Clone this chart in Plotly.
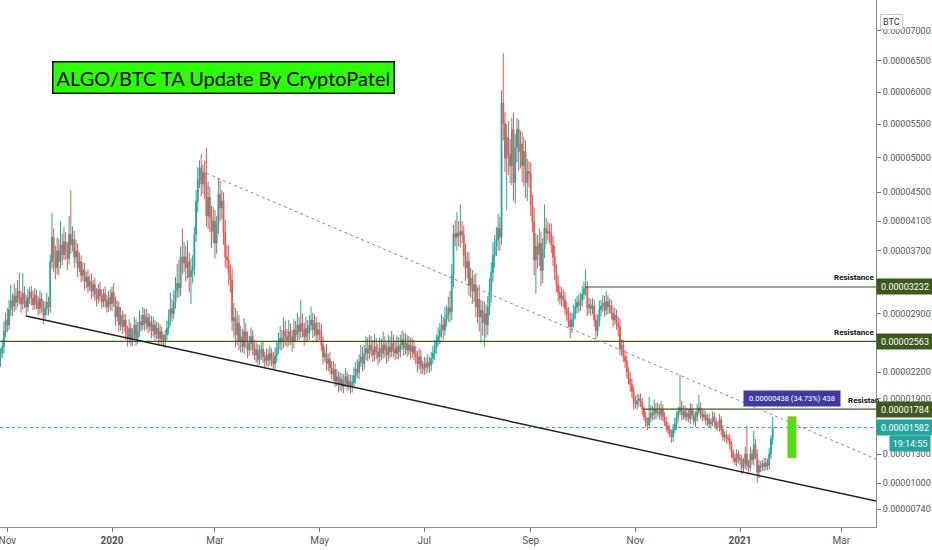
import numpy as np
import pandas as pd
import plotly.graph_objects as go

# ALGO/BTC daily candles, prices in satoshi (1e-8 BTC)
first_open = 2380
close = [
    2420, 2500, 2680, 2820,  # Oct 2019
    2760, 2950, 3060, 2990, 3120, 3040, 3180, 3100, 3020, 3150, 3060, 2980, 3100, 3170, 3090,
    3010, 3130, 3050, 2960, 3080, 3000, 2880, 2960, 3040, 2980, 3560, 3880, 3620, 3480, 3700,  # Nov
    3560, 3780, 3650, 3820, 3700, 3600, 3920, 3780, 3850, 3620, 3700, 3480, 3560, 3380, 3450, 3300,
    3360, 3240, 3300, 3180, 3260, 3140, 3080, 3200, 3120, 3040, 3150, 3060, 2980, 3100, 3020,  # Dec
    3160, 3050, 2860, 2980, 2760, 2880, 2740, 2820, 2660, 2600, 2720, 2580, 2640, 2760, 2600, 2680,
    2800, 2760, 2880, 2780, 2850, 2740, 2800, 2690, 2760, 2650, 2720, 2600, 2680, 2580, 2560,  # Jan 2020
    2640, 2720, 2840, 2960, 2900, 3040, 3180, 3280, 3220, 3620, 3540, 3620, 3480, 3560, 3360,
    3440, 3500, 3920, 4370, 4680, 4850, 4620, 4780, 4600, 4170, 4430, 4150, 3960, 4100,  # Feb
    3800, 4050, 4470, 4280, 4380, 3940, 3620, 3580, 3400, 3320, 2810, 2850, 2640, 2780, 2560, 2620,
    2500, 2680, 2560, 2460, 2540, 2620, 2480, 2400, 2460, 2350, 2420, 2470, 2380, 2330, 2400,  # Mar
    2340, 2420, 2360, 2300, 2390, 2480, 2545, 2600, 2560, 2690, 2620, 2580, 2680, 2620, 2560,
    2700, 2640, 2760, 2680, 2780, 2700, 2620, 2720, 2660, 2760, 2820, 2700, 2780, 2640, 2700,  # Apr
    2660, 2520, 2380, 2420, 2300, 2350, 2250, 2180, 2230, 2100, 2150, 2060, 2120, 2040, 2090, 2150,
    2060, 2100, 2040, 2080, 2160, 2240, 2200, 2320, 2380, 2300, 2420, 2480, 2420, 2520, 2460,  # May
    2400, 2500, 2440, 2380, 2480, 2420, 2520, 2460, 2400, 2500, 2440, 2540, 2470, 2420, 2500,
    2440, 2520, 2580, 2480, 2540, 2460, 2520, 2440, 2500, 2420, 2380, 2300, 2380, 2260, 2240,  # Jun
    2300, 2260, 2320, 2280, 2360, 2420, 2480, 2560, 2620, 2690, 2760, 2700, 2830, 2880, 2970, 2920,
    3380, 3930, 3880, 3940, 3900, 3960, 3920, 3640, 3480, 3560, 3250, 3340, 3180, 3260, 2980,  # Jul
    3080, 2860, 2940, 2790, 2900, 2760, 2980, 3180, 3420, 3640, 3760, 3850, 4000, 3880, 5830, 5510,
    4990, 5300, 5050, 4880, 5420, 4640, 5150, 5420, 5090, 5200, 4880, 5090, 4640, 4800, 4770,  # Aug
    4320, 4090, 3580, 3760, 3650, 3800, 3440, 3720, 4000, 3940, 3960, 3930, 3780, 3620, 3420,
    3260, 3160, 3090, 3120, 3070, 2960, 2900, 2820, 2740, 2820, 2900, 2980, 3040, 3000, 3070,  # Sep
    3140, 3210, 3230, 2970, 3010, 2960, 2990, 2820, 2690, 2800, 2950, 2990, 3030, 2940, 3050, 2980,
    3000, 2900, 2820, 2880, 2780, 2740, 2470, 2520, 2380, 2330, 2200, 2120, 2060, 1980, 1870,  # Oct
    1840, 1880, 1900, 1860, 1780, 1700, 1640, 1610, 1690, 1740, 1720, 1780, 1740, 1760, 1720,
    1780, 1700, 1640, 1600, 1560, 1520, 1480, 1560, 1620, 1700, 1760, 1800, 1720, 1760, 1700,  # Nov
    1740, 1680, 1780, 1720, 1650, 1700, 1760, 1800, 1740, 1700, 1720, 1660, 1680, 1620, 1640, 1700,
    1650, 1600, 1590, 1670, 1560, 1480, 1500, 1470, 1460, 1400, 1320, 1260, 1220, 1300, 1260,  # Dec
    1240, 1160, 1200, 1300, 1180, 1160, 1300, 1240, 1400, 1300, 1110, 1180, 1160, 1200, 1170,
    1210, 1180, 1300, 1460, 1582,  # Jan 2021
]
upper_wick = [
    60, 80, 120, 90,
    150, 120, 200, 90, 150, 100, 140, 240, 80, 260, 90, 70, 110, 60, 80,
    100, 90, 70, 60, 110, 80, 60, 90, 120, 70, 90, 330, 120, 150, 180,
    160, 320, 150, 200, 130, 120, 250, 610, 180, 120, 150, 100, 120, 80, 100, 90,
    70, 100, 80, 110, 60, 90, 80, 70, 100, 80, 60, 90, 70, 80, 100,
    80, 120, 60, 90, 70, 100, 60, 80, 70, 90, 110, 60, 80, 100, 70, 120,
    140, 90, 100, 80, 110, 60, 90, 70, 100, 60, 80, 70, 90, 60, 70,
    60, 90, 110, 200, 120, 150, 180, 250, 300, 140, 380, 200, 150, 280, 120,
    160, 140, 100, 160, 180, 110, 200, 120, 180, 550, 220, 150, 160, 200,
    150, 120, 230, 200, 150, 120, 180, 150, 200, 120, 160, 180, 120, 150, 100, 130,
    90, 160, 100, 120, 90, 110, 80, 100, 90, 70, 100, 80, 90, 60, 80,
    70, 90, 60, 80, 100, 90, 120, 150, 100, 160, 120, 90, 140, 100, 80,
    130, 110, 150, 100, 290, 120, 90, 140, 100, 120, 160, 90, 110, 80, 100,
    90, 120, 100, 80, 110, 70, 90, 80, 100, 70, 90, 60, 80, 70, 90, 100,
    60, 80, 70, 90, 100, 80, 110, 90, 140, 120, 100, 150, 130, 120, 110,
    120, 150, 100, 90, 130, 110, 160, 100, 90, 140, 120, 150, 100, 90, 130,
    110, 120, 110, 90, 120, 100, 110, 90, 100, 80, 90, 70, 100, 80, 70,
    80, 70, 90, 60, 80, 90, 100, 80, 110, 90, 130, 100, 150, 120, 140, 210,
    150, 120, 180, 280, 160, 370, 140, 120, 150, 130, 120, 140, 110, 130, 150,
    150, 180, 130, 120, 150, 110, 140, 160, 130, 180, 150, 170, 200, 160, 200, 800,
    180, 200, 250, 220, 180, 260, 200, 180, 150, 200, 180, 220, 160, 180, 150,
    160, 150, 200, 180, 150, 200, 160, 150, 330, 150, 130, 110, 140, 120, 150,
    100, 120, 90, 110, 80, 100, 90, 80, 100, 90, 110, 100, 80, 100, 90,
    100, 90, 230, 80, 90, 70, 100, 80, 70, 90, 110, 80, 100, 90, 130, 80,
    90, 70, 80, 90, 70, 80, 100, 70, 60, 80, 70, 60, 80, 70, 60,
    60, 70, 50, 60, 50, 40, 60, 50, 230, 90, 80, 110, 70, 100, 80,
    90, 60, 50, 60, 40, 50, 40, 60, 70, 60, 50, 370, 80, 70, 60,
    60, 50, 70, 60, 50, 60, 80, 145, 60, 50, 60, 40, 50, 60, 40, 60,
    50, 40, 50, 60, 40, 50, 40, 50, 40, 50, 40, 30, 40, 50, 40,
    40, 50, 60, 80, 300, 60, 80, 50, 150, 60, 50, 60, 50, 40, 60,
    50, 40, 60, 40, 118,
]
lower_wick = [
    120, 60, 80, 70,
    90, 60, 80, 120, 70, 100, 60, 90, 110, 70, 90, 120, 60, 80, 90,
    70, 60, 100, 80, 70, 90, 110, 60, 80, 100, 70, 90, 200, 150, 90,
    180, 90, 140, 70, 120, 150, 80, 120, 90, 140, 80, 120, 60, 90, 70, 110,
    80, 90, 60, 100, 70, 80, 90, 60, 70, 80, 60, 90, 70, 60, 80,
    90, 70, 110, 60, 80, 70, 90, 60, 80, 100, 60, 80, 70, 60, 90, 70,
    60, 80, 60, 90, 70, 80, 60, 90, 70, 80, 60, 90, 60, 70, 60,
    80, 60, 70, 90, 100, 70, 80, 90, 120, 100, 150, 120, 180, 140, 200,
    340, 160, 120, 100, 150, 120, 180, 140, 200, 150, 180, 200, 220, 160,
    200, 140, 120, 180, 150, 160, 140, 120, 150, 160, 120, 200, 150, 120, 100, 130,
    70, 90, 80, 100, 70, 90, 80, 60, 90, 70, 60, 80, 70, 80, 60,
    80, 60, 90, 70, 60, 80, 70, 90, 100, 80, 110, 90, 70, 100, 120,
    80, 90, 70, 100, 80, 90, 110, 70, 90, 80, 70, 100, 80, 90, 70,
    80, 70, 90, 60, 80, 90, 70, 60, 80, 70, 60, 90, 70, 65, 80, 60,
    70, 60, 80, 70, 60, 90, 70, 80, 60, 90, 70, 80, 90, 70, 80,
    80, 70, 90, 100, 70, 80, 60, 90, 100, 70, 80, 60, 90, 80, 70,
    90, 70, 60, 90, 70, 80, 60, 90, 70, 80, 90, 100, 70, 80, 60,
    70, 80, 60, 90, 70, 60, 80, 70, 60, 90, 80, 120, 70, 90, 80, 130,
    100, 150, 120, 180, 140, 160, 120, 150, 170, 140, 130, 150, 160, 140, 130,
    200, 180, 320, 160, 290, 150, 120, 100, 140, 120, 160, 130, 150, 180, 100, 260,
    200, 740, 300, 250, 280, 260, 300, 220, 280, 250, 240, 300, 220, 260, 200,
    150, 140, 200, 430, 180, 150, 200, 160, 120, 150, 100, 130, 110, 120, 100,
    90, 110, 80, 100, 90, 80, 100, 90, 140, 80, 90, 70, 80, 90, 70,
    80, 70, 90, 100, 80, 90, 70, 80, 100, 70, 60, 90, 70, 80, 60, 90,
    80, 70, 90, 60, 80, 120, 70, 80, 60, 80, 70, 60, 80, 70, 90,
    50, 60, 70, 50, 60, 40, 50, 60, 40, 50, 60, 50, 70, 40, 50,
    60, 50, 40, 60, 50, 40, 60, 50, 40, 60, 50, 40, 60, 50, 40,
    50, 40, 60, 50, 40, 60, 50, 40, 60, 50, 40, 50, 60, 40, 50, 40,
    60, 50, 40, 50, 60, 40, 50, 60, 40, 50, 60, 50, 40, 50, 60,
    60, 70, 50, 60, 50, 60, 40, 50, 60, 50, 110, 60, 50, 40, 50,
    40, 50, 40, 50, 60,
]

# price axis labels (satoshi)
price_ticks = [740, 1000, 1300, 1900, 2200, 2900, 3700, 4100, 4500, 5000, 5500, 6000, 6500, 7000]
month_ticks = ["2019-11-01", "2020-01-01", "2020-03-01", "2020-05-01", "2020-07-01",
               "2020-09-01", "2020-11-01", "2021-01-01", "2021-03-01"]
month_labels = ["Nov", "<b>2020</b>", "Mar", "May", "Jul", "Sep", "Nov", "<b>2021</b>", "Mar"]

# drawings
resistance = [3232, 2563, 1784]
resistance_start = ["2020-10-02 14:00", "2019-10-27 17:30", "2020-11-05 10:00"]
# the lowest label runs into the price axis and is cut there
resistance_text = ["Resistance", "Resistance", "Resistan"]
support = (("2019-11-11 22:00", 2870), ("2021-03-21 05:17", 819))
trend = (("2020-02-21 21:00", 4805), ("2021-03-21 05:17", 1248))
last_price = 1582
measure_low, measure_high = 1261, 1699

X_RANGE = ["2019-10-27 17:30", "2021-03-21 05:17"]


def ty(p):
    # the chart's price scale: straight in log(price + 8000 sat)
    return np.log(np.asarray(p, dtype=float) + 8000)


def fmt(p):
    return "%.8f" % (p / 1e8)


n = min(len(close), len(upper_wick), len(lower_wick))
close_a = np.array(close[:n], dtype=float)
open_a = np.concatenate([[first_open], close_a[:-1]])
high_a = np.maximum(open_a, close_a) + np.array(upper_wick[:n])
low_a = np.minimum(open_a, close_a) - np.array(lower_wick[:n])
dates = pd.date_range("2019-10-28", periods=n, freq="D")

UP, DOWN = "#26a69a", "#ef5350"
OLIVE = "#3d5a1e"

fig = go.Figure(go.Candlestick(
    x=dates, open=ty(open_a), high=ty(high_a), low=ty(low_a), close=ty(close_a),
    increasing=dict(line=dict(color=UP, width=1), fillcolor=UP),
    decreasing=dict(line=dict(color=DOWN, width=1), fillcolor=DOWN),
    whiskerwidth=0, hoverinfo="skip", showlegend=False,
))

# horizontal resistance lines
for lvl, x0 in zip(resistance, resistance_start):
    fig.add_shape(type="line", xref="x", yref="y", x0=x0, x1=X_RANGE[1], y0=ty(lvl), y1=ty(lvl),
                  line=dict(color=OLIVE, width=1.2))
# last price dotted line
fig.add_shape(type="line", xref="x", yref="y", x0=X_RANGE[0], x1=X_RANGE[1],
              y0=ty(last_price), y1=ty(last_price), line=dict(color="#1fb3a3", width=1, dash="dot"))
# support and falling trend line
fig.add_shape(type="line", xref="x", yref="y", x0=support[0][0], x1=support[1][0],
              y0=ty(support[0][1]), y1=ty(support[1][1]), line=dict(color="#222222", width=1.5))
fig.add_shape(type="line", xref="x", yref="y", x0=trend[0][0], x1=trend[1][0],
              y0=ty(trend[0][1]), y1=ty(trend[1][1]), line=dict(color="#8a8a8a", width=1, dash="dot"))
# measure box
fig.add_shape(type="rect", xref="x", yref="y", x0="2021-01-28 22:00", x1="2021-02-02 14:00",
              y0=ty(measure_low), y1=ty(measure_high), fillcolor="#3fe61c",
              line=dict(color="#d0a400", width=1))

ann = []
ann.append(dict(xref="paper", yref="paper", x=52 / 876, y=1 - 61 / 527, xanchor="left", yanchor="top",
                text="ALGO/BTC TA Update By CryptoPatel", showarrow=False,
                font=dict(family="Lato", size=20, color="#000000"),
                bgcolor="#2cff05", bordercolor="#111111", borderwidth=1.5, borderpad=3))
for lvl, txt, xa, xv in zip(resistance, resistance_text, ["right", "right", "left"],
                            [1.0, 1.0, 846 / 876]):
    ann.append(dict(xref="paper", yref="y", x=xv, y=ty(lvl), xanchor=xa, yanchor="middle", yshift=9,
                    text="<b>%s</b>" % txt, showarrow=False,
                    font=dict(family="Roboto", size=8, color="#111111")))
ann.append(dict(xref="x", yref="y", x="2021-01-31 06:00", y=ty(1903), text="0.00000438 (34.73%) 438",
                showarrow=False, font=dict(family="Roboto", size=7.5, color="white"),
                bgcolor="#3f3b9e", borderpad=2, width=92, height=11))
for lvl in resistance:
    ann.append(dict(xref="paper", yref="y", x=1.0, y=ty(lvl), xanchor="left", yanchor="middle",
                    text=fmt(lvl), showarrow=False, font=dict(family="Roboto", size=9, color="white"),
                    bgcolor=OLIVE, borderpad=1, width=54, height=13))
ann.append(dict(xref="paper", yref="y", x=1.0, y=ty(last_price), xanchor="left", yanchor="middle",
                text=fmt(last_price), showarrow=False, font=dict(family="Roboto", size=9, color="white"),
                bgcolor=UP, borderpad=1, width=54, height=13))
ann.append(dict(xref="paper", yref="y", x=931 / 876, y=ty(last_price), xanchor="right", yanchor="middle",
                yshift=-16, text="19:14:55", showarrow=False,
                font=dict(family="Roboto", size=9, color="white"),
                bgcolor=UP, borderpad=1, width=38, height=13))
ann.append(dict(xref="paper", yref="paper", x=903 / 876, y=1 - 14 / 527, text="BTC", showarrow=False,
                font=dict(family="Roboto", size=9, color="#333333"), bgcolor="white",
                bordercolor="#c8c8c8", borderwidth=1, borderpad=2))

fig.update_layout(
    width=932, height=550,
    margin=dict(l=0, r=56, t=0, b=23),
    paper_bgcolor="white", plot_bgcolor="white",
    annotations=ann,
    xaxis=dict(type="date", range=X_RANGE, rangeslider=dict(visible=False), showgrid=False,
               zeroline=False, tickvals=month_ticks, ticktext=month_labels, ticks="outside",
               ticklen=4, tickcolor="#777777", showline=True, linecolor="#8c8c8c", linewidth=1,
               ticklabeloverflow="allow",
               tickfont=dict(family="Roboto", size=10, color="#555555")),
    yaxis=dict(side="right", range=[ty(564), ty(7534)], showgrid=False, zeroline=False,
               tickvals=ty(price_ticks), ticktext=[fmt(v) for v in price_ticks],
               ticks="outside", ticklen=4, tickcolor="#777777", showline=True,
               linecolor="#8c8c8c", linewidth=1,
               tickfont=dict(family="Roboto", size=9, color="#555555")),
)

# page margin off so the 932x550 figure fills the window
fig.write_html("out.html", config={"displayModeBar": False},
               post_script="document.body.style.margin='0px';")
